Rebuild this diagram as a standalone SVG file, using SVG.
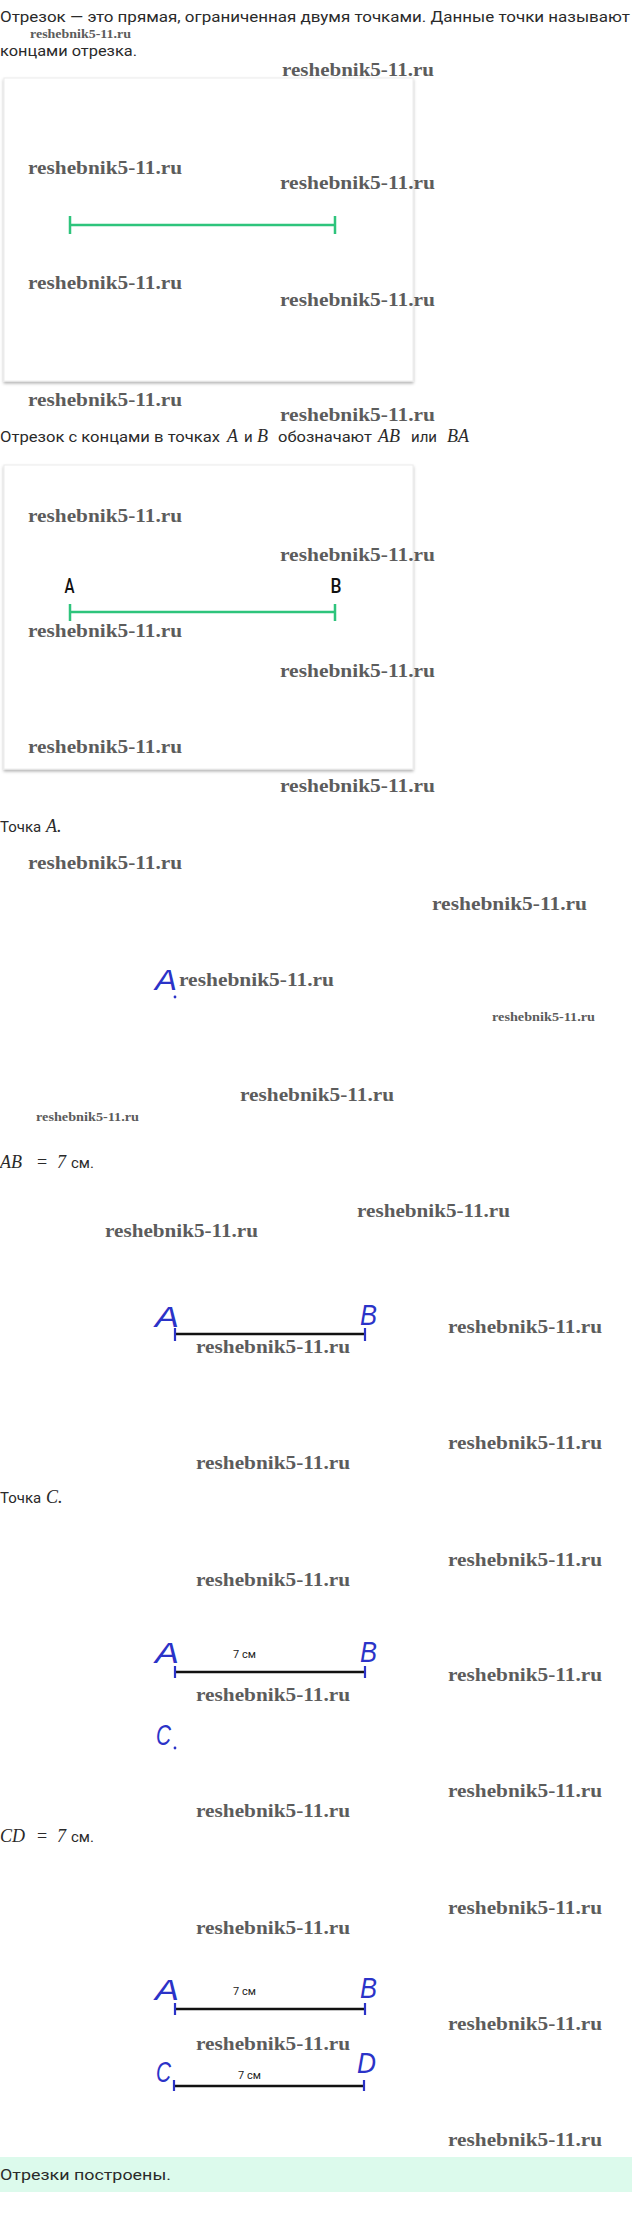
<svg xmlns="http://www.w3.org/2000/svg" width="632" height="2225" viewBox="0 0 632 2225">
<style>
.t{font-family:Roboto,"Liberation Sans",sans-serif;font-size:15px;fill:#2a2a2a}
.m{font-family:"Liberation Serif",serif;font-style:italic;font-size:18px;fill:#2a2a2a}
.w{font-family:"Liberation Serif","DejaVu Serif",serif;font-weight:bold;font-size:18px;fill:#5c5c5c}
.ws{font-family:"Liberation Serif","DejaVu Serif",serif;font-weight:bold;font-size:12px;fill:#5c5c5c}
.hb{font-family:"Liberation Sans",sans-serif;font-style:italic;font-size:30px;fill:#2b33c8}
.lbl{font-family:Roboto,"Liberation Sans",sans-serif;font-weight:500;font-size:20px;fill:#111}
.cm{font-family:Roboto,"Liberation Sans",sans-serif;font-size:11px;fill:#222}
.box{fill:#fff;stroke:#ececec;stroke-width:1}
.green{stroke:#2ec47c;stroke-width:2.5;fill:none}
.blk{stroke:#111;stroke-width:2.5;fill:none}
.tick{stroke:#2b33c8;stroke-width:2.2}
</style>
<defs>
<filter id="sh" x="-5%" y="-5%" width="110%" height="115%">
<feDropShadow dx="0" dy="2" stdDeviation="1.5" flood-color="#000" flood-opacity="0.3"/>
</filter>
</defs>
<rect width="632" height="2225" fill="#fff"/>

<g id="intro">
<text class="t" x="0" y="22" textLength="630" lengthAdjust="spacingAndGlyphs">Отрезок — это прямая, ограниченная двумя точками. Данные точки называют</text>
<text class="t" x="0" y="56" textLength="137" lengthAdjust="spacingAndGlyphs">концами отрезка.</text>
</g>

<g id="box1">
<rect class="box" x="4" y="78" width="409" height="303" filter="url(#sh)"/>
</g>
<g id="box2">
<rect class="box" x="4" y="465" width="409" height="304" filter="url(#sh)"/>
<text class="lbl" x="64.5" y="593" textLength="10" lengthAdjust="spacingAndGlyphs">A</text>
<text class="lbl" x="330.5" y="593" textLength="11" lengthAdjust="spacingAndGlyphs">B</text>
</g>

<g id="text2">
<text class="t" y="442"><tspan x="0" textLength="220" lengthAdjust="spacingAndGlyphs">Отрезок с концами в точках</tspan><tspan class="m" x="227">A</tspan><tspan x="244">и</tspan><tspan class="m" x="257">B</tspan><tspan x="278" textLength="94" lengthAdjust="spacingAndGlyphs">обозначают</tspan><tspan class="m" x="378">AB</tspan><tspan x="411">или</tspan><tspan class="m" x="447">BA</tspan></text>
</g>

<g id="text3">
<text class="t" y="832"><tspan x="0">Точка</tspan><tspan class="m" x="46">A.</tspan></text>
</g>
<g id="pointA">
<text class="hb" x="155" y="990" textLength="22" lengthAdjust="spacingAndGlyphs">A</text>
<circle cx="175" cy="997" r="1.4" fill="#2b33c8"/>
</g>

<g id="text4">
<text class="m" y="1168"><tspan x="0">AB</tspan><tspan x="37" font-style="normal">=</tspan><tspan x="57">7</tspan></text>
<text class="t" x="71" y="1168">см.</text>
</g>
<g id="drawAB">
<text class="hb" x="155" y="1327" textLength="24" lengthAdjust="spacingAndGlyphs">A</text>
<text class="hb" x="360" y="1325" font-style="normal" textLength="17" lengthAdjust="spacingAndGlyphs">B</text>
</g>

<g id="text5">
<text class="t" y="1503"><tspan x="0">Точка</tspan><tspan class="m" x="46">C.</tspan></text>
</g>
<g id="drawABC">
<text class="hb" x="155" y="1663" textLength="24" lengthAdjust="spacingAndGlyphs">A</text>
<text class="hb" x="360" y="1662" font-style="normal" textLength="17" lengthAdjust="spacingAndGlyphs">B</text>
<text class="cm" x="233" y="1658">7 см</text>
<text class="hb" x="156" y="1745" textLength="15" lengthAdjust="spacingAndGlyphs">C</text>
<circle cx="175" cy="1748" r="1.4" fill="#2b33c8"/>
</g>

<g id="text6">
<text class="m" y="1842"><tspan x="0">CD</tspan><tspan x="37" font-style="normal">=</tspan><tspan x="57">7</tspan></text>
<text class="t" x="71" y="1842">см.</text>
</g>
<g id="drawABCD">
<text class="hb" x="155" y="2000" textLength="24" lengthAdjust="spacingAndGlyphs">A</text>
<text class="hb" x="360" y="1998" font-style="normal" textLength="17" lengthAdjust="spacingAndGlyphs">B</text>
<text class="cm" x="233" y="1995">7 см</text>
<text class="hb" x="156" y="2082" textLength="15" lengthAdjust="spacingAndGlyphs">C</text>
<text class="hb" x="357" y="2073" textLength="19" lengthAdjust="spacingAndGlyphs">D</text>
<text class="cm" x="238" y="2079">7 см</text>
</g>

<g id="connectors">
<path class="green" d="M70 225H335M70 216V234M335 216V234"/>
<path class="green" d="M70 612H335M70 604V621M335 604V621"/>
<path class="blk" d="M175 1334H365"/>
<path class="tick" d="M175 1328V1341M365 1328V1341"/>
<path class="blk" d="M175 1672H365"/>
<path class="tick" d="M175 1666V1678M365 1666V1678"/>
<path class="blk" d="M175 2009H365"/>
<path class="tick" d="M175 2003V2015M365 2003V2015"/>
<path class="blk" d="M174 2086H364"/>
<path class="tick" d="M174 2080V2091M364 2080V2091"/>
</g>

<g id="result">
<rect x="0" y="2157" width="632" height="35" fill="#dcfaec"/>
<text class="t" x="0" y="2180" textLength="171" lengthAdjust="spacingAndGlyphs">Отрезки построены.</text>
</g>

<g id="watermarks">
<text class="ws" x="30" y="38" textLength="101" lengthAdjust="spacingAndGlyphs">reshebnik5-11.ru</text>
<text class="w" x="282" y="76" textLength="152" lengthAdjust="spacingAndGlyphs">reshebnik5-11.ru</text>
<text class="w" x="28" y="174" textLength="154" lengthAdjust="spacingAndGlyphs">reshebnik5-11.ru</text>
<text class="w" x="280" y="189" textLength="155" lengthAdjust="spacingAndGlyphs">reshebnik5-11.ru</text>
<text class="w" x="28" y="289" textLength="154" lengthAdjust="spacingAndGlyphs">reshebnik5-11.ru</text>
<text class="w" x="280" y="306" textLength="155" lengthAdjust="spacingAndGlyphs">reshebnik5-11.ru</text>
<text class="w" x="28" y="406" textLength="154" lengthAdjust="spacingAndGlyphs">reshebnik5-11.ru</text>
<text class="w" x="280" y="421" textLength="155" lengthAdjust="spacingAndGlyphs">reshebnik5-11.ru</text>
<text class="w" x="28" y="522" textLength="154" lengthAdjust="spacingAndGlyphs">reshebnik5-11.ru</text>
<text class="w" x="280" y="561" textLength="155" lengthAdjust="spacingAndGlyphs">reshebnik5-11.ru</text>
<text class="w" x="28" y="637" textLength="154" lengthAdjust="spacingAndGlyphs">reshebnik5-11.ru</text>
<text class="w" x="280" y="677" textLength="155" lengthAdjust="spacingAndGlyphs">reshebnik5-11.ru</text>
<text class="w" x="28" y="753" textLength="154" lengthAdjust="spacingAndGlyphs">reshebnik5-11.ru</text>
<text class="w" x="280" y="792" textLength="155" lengthAdjust="spacingAndGlyphs">reshebnik5-11.ru</text>
<text class="w" x="28" y="869" textLength="154" lengthAdjust="spacingAndGlyphs">reshebnik5-11.ru</text>
<text class="w" x="432" y="910" textLength="155" lengthAdjust="spacingAndGlyphs">reshebnik5-11.ru</text>
<text class="w" x="179" y="986" textLength="155" lengthAdjust="spacingAndGlyphs">reshebnik5-11.ru</text>
<text class="ws" x="492" y="1021" textLength="103" lengthAdjust="spacingAndGlyphs">reshebnik5-11.ru</text>
<text class="w" x="240" y="1101" textLength="154" lengthAdjust="spacingAndGlyphs">reshebnik5-11.ru</text>
<text class="ws" x="36" y="1121" textLength="103" lengthAdjust="spacingAndGlyphs">reshebnik5-11.ru</text>
<text class="w" x="357" y="1217" textLength="153" lengthAdjust="spacingAndGlyphs">reshebnik5-11.ru</text>
<text class="w" x="105" y="1237" textLength="153" lengthAdjust="spacingAndGlyphs">reshebnik5-11.ru</text>
<text class="w" x="448" y="1333" textLength="154" lengthAdjust="spacingAndGlyphs">reshebnik5-11.ru</text>
<text class="w" x="196" y="1353" textLength="154" lengthAdjust="spacingAndGlyphs">reshebnik5-11.ru</text>
<text class="w" x="448" y="1449" textLength="154" lengthAdjust="spacingAndGlyphs">reshebnik5-11.ru</text>
<text class="w" x="196" y="1469" textLength="154" lengthAdjust="spacingAndGlyphs">reshebnik5-11.ru</text>
<text class="w" x="448" y="1566" textLength="154" lengthAdjust="spacingAndGlyphs">reshebnik5-11.ru</text>
<text class="w" x="196" y="1586" textLength="154" lengthAdjust="spacingAndGlyphs">reshebnik5-11.ru</text>
<text class="w" x="448" y="1681" textLength="154" lengthAdjust="spacingAndGlyphs">reshebnik5-11.ru</text>
<text class="w" x="196" y="1701" textLength="154" lengthAdjust="spacingAndGlyphs">reshebnik5-11.ru</text>
<text class="w" x="448" y="1797" textLength="154" lengthAdjust="spacingAndGlyphs">reshebnik5-11.ru</text>
<text class="w" x="196" y="1817" textLength="154" lengthAdjust="spacingAndGlyphs">reshebnik5-11.ru</text>
<text class="w" x="448" y="1914" textLength="154" lengthAdjust="spacingAndGlyphs">reshebnik5-11.ru</text>
<text class="w" x="196" y="1934" textLength="154" lengthAdjust="spacingAndGlyphs">reshebnik5-11.ru</text>
<text class="w" x="448" y="2030" textLength="154" lengthAdjust="spacingAndGlyphs">reshebnik5-11.ru</text>
<text class="w" x="196" y="2050" textLength="154" lengthAdjust="spacingAndGlyphs">reshebnik5-11.ru</text>
<text class="w" x="448" y="2146" textLength="154" lengthAdjust="spacingAndGlyphs">reshebnik5-11.ru</text>
</g>
</svg>
